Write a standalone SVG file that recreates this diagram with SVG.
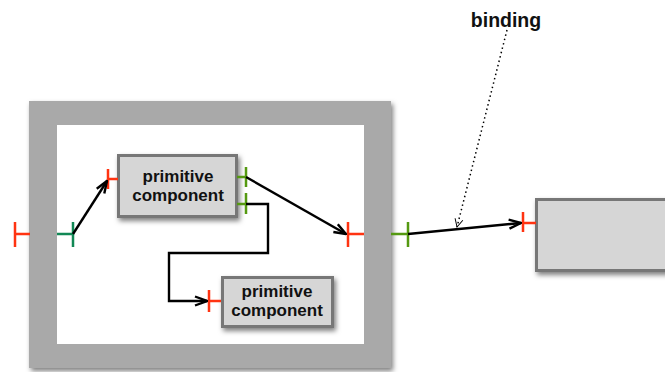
<svg xmlns="http://www.w3.org/2000/svg" width="665" height="372" viewBox="0 0 665 372">
  <defs>
    <filter id="shadow" x="-20%" y="-20%" width="150%" height="150%">
      <feDropShadow dx="2" dy="3" stdDeviation="2.5" flood-color="#000" flood-opacity="0.5"/>
    </filter>
    <marker id="arrow" viewBox="0 0 14 12" refX="13" refY="6" markerWidth="14" markerHeight="12" markerUnits="userSpaceOnUse" orient="auto">
      <path d="M1,1.5 L13,6 L1,10.5" fill="none" stroke="#000" stroke-width="2.4" stroke-linejoin="miter"/>
    </marker>
    <marker id="openArrow" viewBox="0 0 10 10" refX="9" refY="5" markerWidth="10" markerHeight="10" markerUnits="userSpaceOnUse" orient="auto">
      <path d="M1,1 L9,5 L1,9" fill="none" stroke="#000" stroke-width="1"/>
    </marker>
  </defs>
  <style>
    .frame { fill: #a9a9a9; }
    .inner { fill: #ffffff; }
    .comp { fill: #d6d6d6; stroke: #777777; stroke-width: 3; }
    .label { font-family: "Liberation Sans", Arial, sans-serif; font-weight: bold; font-size: 17px; fill: #111; text-anchor: middle; }
    .red { stroke: #ff3311; stroke-width: 2.5; fill: none; }
    .green { stroke: #559911; stroke-width: 2.5; fill: none; }
    .teal { stroke: #118855; stroke-width: 2.5; fill: none; }
    .wire { stroke: #000; stroke-width: 2.4; fill: none; }
  </style>

  <!-- composite component -->
  <g id="composite">
    <rect class="frame" x="29" y="101" width="362" height="267" filter="url(#shadow)"/>
    <rect class="inner" x="57" y="125" width="307" height="219"/>
    <path class="red" d="M15,222 V247 M15,234 H30"/>
    <path class="teal" d="M57,234 H73 M73,222 V247"/>
    <path class="red" d="M348,222 V247 M348,234 H364"/>
    <path class="green" d="M391,234 H408 M408,222 V247"/>
  </g>

  <!-- first primitive component -->
  <g id="primitive1">
    <rect class="comp" x="118.5" y="155.5" width="118" height="61" filter="url(#shadow)"/>
    <text class="label" x="178" y="182">primitive</text>
    <text class="label" x="178" y="201">component</text>
    <path class="red" d="M108,169 V189 M108,179 H118"/>
    <path class="green" d="M237,177 H246 M246,167 V187"/>
    <path class="green" d="M237,204 H246 M246,193 V214"/>
  </g>

  <!-- second primitive component -->
  <g id="primitive2">
    <rect class="comp" x="222.5" y="277.5" width="110" height="49" filter="url(#shadow)"/>
    <text class="label" x="277" y="297">primitive</text>
    <text class="label" x="277" y="316">component</text>
    <path class="red" d="M209,290 V312 M209,301 H221"/>
  </g>

  <!-- external component -->
  <g id="external">
    <rect class="comp" x="536.5" y="199.5" width="140" height="71" filter="url(#shadow)"/>
    <path class="red" d="M523,212 V232 M523,223 H536"/>
  </g>

  <!-- binding annotation -->
  <g id="binding-note">
    <text class="label" x="506" y="27" style="font-size:19.5px">binding</text>
  </g>

  <!-- connectors -->
  <g id="connectors">
    <line class="wire" x1="73" y1="234" x2="107" y2="181" marker-end="url(#arrow)"/>
    <line class="wire" x1="246" y1="177" x2="346" y2="234" marker-end="url(#arrow)"/>
    <path class="wire" d="M246,204 H268 V253 H169 V301 H207" marker-end="url(#arrow)"/>
    <line class="wire" x1="408" y1="234" x2="521" y2="223" marker-end="url(#arrow)"/>
    <line x1="507" y1="30" x2="457" y2="227" stroke="#000" stroke-width="1.5" stroke-dasharray="1.5,3" marker-end="url(#openArrow)"/>
  </g>
</svg>
